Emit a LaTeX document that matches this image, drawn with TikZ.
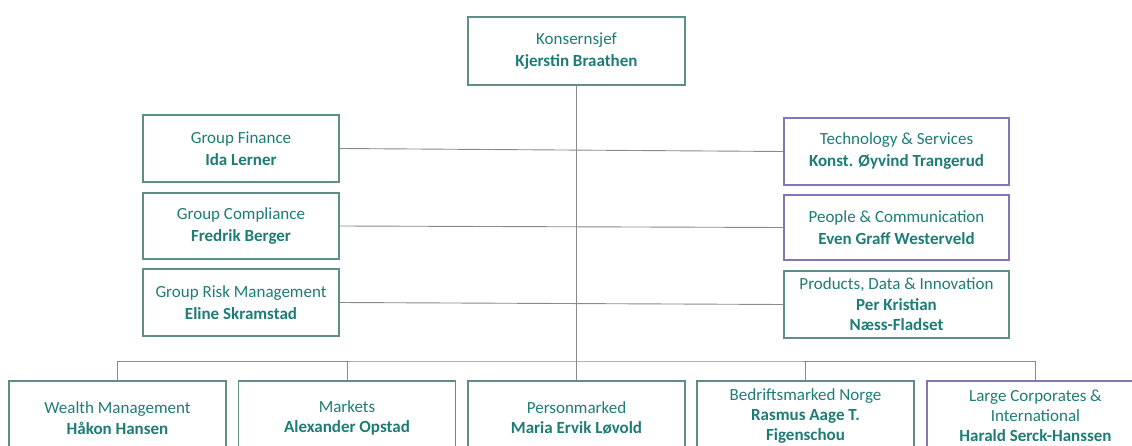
\documentclass[tikz,border=0pt]{standalone}
\usepackage{fontspec}
\setmainfont{Carlito}
\definecolor{txt}{HTML}{1E7C77}
\definecolor{tealb}{HTML}{5F8E89}
\definecolor{purp}{HTML}{8575B5}
\definecolor{conn}{HTML}{8A8A8A}
\begin{document}
\begin{tikzpicture}[x=1pt,y=-1pt,
  box/.style={draw=tealb,line width=1.1pt,fill=white,text=txt,align=center,
    inner sep=0pt,font=\fontsize{17}{22}\selectfont},
  pbox/.style={box,draw=purp},
  link/.style={draw=conn,line width=0.9pt},
  lowbox/.style={minimum width=217pt,minimum height=74pt,font=\fontsize{17}{20.5}\selectfont},
  lowbox3/.style={minimum width=217pt,minimum height=70pt,font=\fontsize{17}{20}\selectfont}]
\useasboundingbox (0,0) rectangle (1132,446);
\clip (0,0) rectangle (1132,446);
\fill[white] (0,0) rectangle (1132,446);
\node[box,minimum width=217pt,minimum height=68pt] (ceo) at (576.5,51) {Konsernsjef\\\textbf{Kjerstin Braathen}};
\node[box,minimum width=196pt,minimum height=67pt] (gf) at (241,148.5) {Group Finance\\\textbf{Ida Lerner}};
\node[box,minimum width=196pt,minimum height=66pt] (gc) at (241,226) {Group Compliance\\\textbf{Fredrik Berger}};
\node[box,minimum width=196pt,minimum height=67pt] (gr) at (241,302.5) {Group Risk Management\\\textbf{Eline Skramstad}};
\node[pbox,minimum width=225pt,minimum height=67pt] (ts) at (896.5,151.5) {Technology \& Services\\\textbf{Konst. Øyvind Trangerud}};
\node[pbox,minimum width=225pt,minimum height=65pt] (pc) at (896.5,227.5) {People \& Communication\\\textbf{Even Graff Westerveld}};
\node[box,minimum width=225pt,minimum height=67pt,font=\fontsize{17}{20.5}\selectfont] (pdi) at (896.5,304.5) {Products, Data \& Innovation\\\textbf{Per Kristian}\\\textbf{Næss-Fladset}};
\node[box,lowbox] (wm) at (117.5,418) {Wealth Management\\\textbf{Håkon Hansen}};
\node[box,lowbox] (mk) at (347,418) {Markets\\\textbf{Alexander Opstad}};
\node[box,lowbox] (pm) at (576.5,418) {Personmarked\\\textbf{Maria Ervik Løvold}};
\node[box,lowbox3] (bm) at (805.5,416) {Bedriftsmarked Norge\\\textbf{Rasmus Aage T.}\\\textbf{Figenschou}};
\node[pbox,lowbox3] (lc) at (1035.5,416) {Large Corporates \&\\International\\\textbf{Harald Serck-Hanssen}};
\coordinate (bar) at (576.5,361);
\draw[link] (ceo.south) -- (pm.north);
\draw[link] (gf.east) -- (ts.west);
\draw[link] (gc.east) -- (pc.west);
\draw[link] (gr.east) -- (pdi.west);
\draw[link] (wm.north) |- (bar) -| (lc.north);
\draw[link] (mk.north) -- (mk.north |- bar);
\draw[link] (bm.north) -- (bm.north |- bar);
\end{tikzpicture}
\end{document}
